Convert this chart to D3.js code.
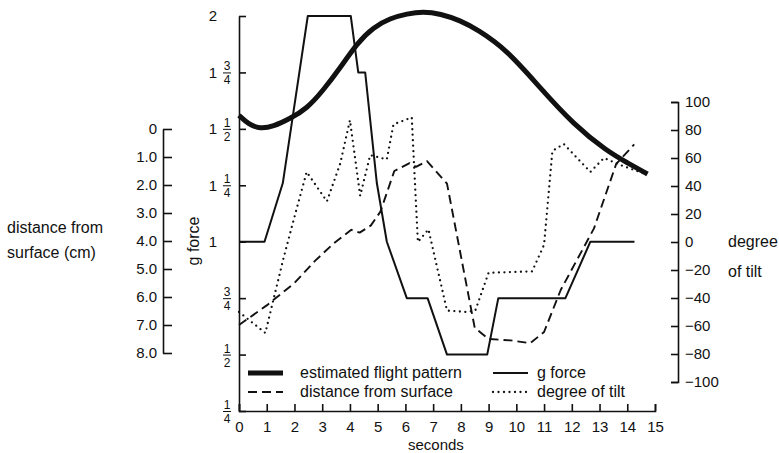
<!DOCTYPE html>
<html>
<head>
<meta charset="utf-8">
<script src="https://cdn.jsdelivr.net/npm/d3@7"></script>
<style>
  body { margin: 0; background: #fff; }
  text { font-family: "Liberation Sans", Arial, sans-serif; fill: #111; }
</style>
</head>
<body>
<div id="chart"></div>
<script>
// g force (thin solid line)
var gTime  = [0, 0.92, 1.58, 2.48, 4.03, 4.3, 4.55, 4.97, 5.33, 6.05, 6.8, 7.5, 8.95, 9.35, 11.77, 12.67, 14.26];
var gForce = [1, 1, 1.26, 2, 2, 1.75, 1.75, 1.26, 1.0, 0.75, 0.75, 0.5, 0.5, 0.75, 0.75, 1, 1];

// estimated flight pattern (thick curve, on the g force scale)
var flightTime = [0, 0.35, 0.76, 1.23, 1.84, 2.45, 3.03, 3.65, 4.26, 4.84, 5.45, 6.06, 6.64, 7.26, 7.98, 8.6, 9.66, 10.87, 12.06, 13.28, 14.0, 14.73];
var flightG    = [1.56, 1.52, 1.5, 1.51, 1.545, 1.59, 1.67, 1.77, 1.88, 1.95, 1.99, 2.01, 2.02, 2.01, 1.98, 1.94, 1.85, 1.68, 1.52, 1.40, 1.35, 1.30];

// distance from surface (cm)
var distTime = [0, 1, 2, 2.75, 3.4, 4.05, 4.35, 4.75, 5.1, 5.6, 6.15, 6.38, 6.78, 7.5, 8.5, 9.0, 9.8, 10.5, 11.0, 11.6, 12.8, 13.6, 14.25];
var distCm   = [7.0, 6.3, 5.5, 4.7, 4.1, 3.6, 3.7, 3.45, 2.95, 1.5, 1.22, 1.35, 1.15, 1.95, 7.1, 7.5, 7.55, 7.65, 7.25, 5.75, 3.55, 1.25, 0.55];

// degree of tilt
var tiltTime = [0, 0.95, 1.6, 1.96, 2.44, 3.17, 3.65, 4.0, 4.37, 4.73, 5.33, 5.57, 6.23, 6.3, 6.45, 6.83, 7.5, 8.22, 8.52, 9.0, 10.57, 11.0, 11.3, 11.71, 12.67, 13.16, 13.75, 14.72];
var tiltDeg  = [-50, -65, -12, 15, 50, 29, 56, 87, 33, 62, 59, 84, 89, 60, 0, 9, -49, -50, -49, -22, -21, -2, 65, 70, 50, 60, 55, 48];

// axis ticks
var secondTicks = d3.range(0, 16);
var gTicks = [0.25, 0.5, 0.75, 1, 1.25, 1.5, 1.75, 2];
var gLabels = [["", "1", "4"], ["", "1", "2"], ["", "3", "4"], ["1", "", ""], ["1", "1", "4"], ["1", "1", "2"], ["1", "3", "4"], ["2", "", ""]];
var distTicks = [0, 1, 2, 3, 4, 5, 6, 7, 8];
var tiltTicks = [100, 80, 60, 40, 20, 0, -20, -40, -60, -80, -100];

var legendItems = [
    {label: "estimated flight pattern", style: "flight", col: 0, row: 0},
    {label: "g force", style: "g", col: 1, row: 0},
    {label: "distance from surface", style: "dist", col: 0, row: 1},
    {label: "degree of tilt", style: "tilt", col: 1, row: 1}
];

init();

function init() {
    var w = 779, h = 453;
    var vis = d3.select("#chart").append("svg")
        .attr("width", w)
        .attr("height", h);

    var x = d3.scaleLinear().domain([0, 15]).range([239, 655]);
    var yG = d3.scaleLinear().domain([0.25, 2]).range([411, 16]);
    var yD = d3.scaleLinear().domain([0, 8]).range([129, 353]);
    var yT = d3.scaleLinear().domain([-100, 100]).range([382, 102]);

    var styles = {
        flight: {width: 5, dash: null, cap: "butt"},
        g: {width: 2, dash: null, cap: "butt"},
        dist: {width: 1.9, dash: "9,5", cap: "butt"},
        tilt: {width: 2.3, dash: "0,5.5", cap: "round"}
    };

    function applyStyle(sel, s) {
        sel.attr("fill", "none")
            .attr("stroke", "#111")
            .attr("stroke-width", styles[s].width)
            .attr("stroke-linecap", styles[s].cap)
            .attr("stroke-linejoin", "round");
        if (styles[s].dash) sel.attr("stroke-dasharray", styles[s].dash);
        return sel;
    }

    // x axis (seconds)
    var xAxis = vis.append("g")
        .attr("transform", "translate(0,411)")
        .call(d3.axisBottom(x).tickValues(secondTicks).tickSizeInner(-7).tickSizeOuter(-7).tickPadding(10));
    xAxis.selectAll("text").style("font-size", "15px").attr("font-family", null);

    vis.append("text")
        .attr("x", x(7.1))
        .attr("y", 450)
        .attr("text-anchor", "middle")
        .style("font-size", "15px")
        .text("seconds");

    // g force axis
    vis.append("g")
        .attr("transform", "translate(239,0)")
        .call(d3.axisLeft(yG).tickValues(gTicks).tickSizeInner(-7).tickSizeOuter(0).tickFormat(""));

    var gl = vis.append("g").selectAll("g.glabel")
        .data(gTicks)
        .enter()
        .append("g")
        .attr("class", "glabel")
        .attr("transform", function(d) { return "translate(0," + yG(d) + ")"; });
    gl.append("text")
        .attr("x", 213)
        .attr("dy", "0.36em")
        .attr("text-anchor", "middle")
        .style("font-size", "15px")
        .text(function(d, i) { return gLabels[i][0]; });
    gl.append("text")
        .attr("x", 227)
        .attr("y", -2)
        .attr("text-anchor", "middle")
        .style("font-size", "12px")
        .text(function(d, i) { return gLabels[i][1]; });
    gl.append("text")
        .attr("x", 227)
        .attr("y", 12)
        .attr("text-anchor", "middle")
        .style("font-size", "12px")
        .text(function(d, i) { return gLabels[i][2]; });
    gl.filter(function(d, i) { return gLabels[i][1] !== ""; })
        .append("line")
        .attr("x1", 223).attr("x2", 231)
        .attr("y1", 0.5).attr("y2", 0.5)
        .attr("stroke", "#111")
        .attr("stroke-width", 1);

    vis.append("text")
        .attr("transform", "translate(199,241) rotate(-90)")
        .attr("text-anchor", "middle")
        .style("font-size", "16px")
        .text("g force");

    // distance axis
    var dAxis = vis.append("g")
        .attr("transform", "translate(163,0)")
        .call(d3.axisLeft(yD).tickValues(distTicks).tickSizeInner(-9).tickSizeOuter(0).tickPadding(6)
            .tickFormat(function(d) { return d === 0 ? "0" : d3.format(".1f")(d); }));
    dAxis.selectAll("text").style("font-size", "15px").attr("font-family", null);

    vis.append("text").attr("x", 7).attr("y", 233).style("font-size", "16px").text("distance from");
    vis.append("text").attr("x", 7).attr("y", 258).style("font-size", "16px").text("surface (cm)");

    // tilt axis
    var tAxis = vis.append("g")
        .attr("transform", "translate(678,0)")
        .call(d3.axisRight(yT).tickValues(tiltTicks).tickSizeInner(-7).tickSizeOuter(-7).tickPadding(7));
    tAxis.selectAll("text").style("font-size", "15px").attr("font-family", null);

    vis.append("text").attr("x", 728).attr("y", 247).style("font-size", "16px").text("degree");
    vis.append("text").attr("x", 728).attr("y", 277).style("font-size", "16px").text("of tilt");

    vis.selectAll(".domain, .tick line").attr("stroke", "#111").attr("stroke-width", 1.6);

    // series
    var flightLine = d3.line()
        .x(function(d) { return x(d[0]); })
        .y(function(d) { return yG(d[1]); })
        .curve(d3.curveBasis);
    applyStyle(vis.append("path").datum(d3.zip(flightTime, flightG)).attr("d", flightLine), "flight");

    var gLine = d3.line()
        .x(function(d) { return x(d[0]); })
        .y(function(d) { return yG(d[1]); });
    applyStyle(vis.append("path").datum(d3.zip(gTime, gForce)).attr("d", gLine), "g");

    var distLine = d3.line()
        .x(function(d) { return x(d[0]); })
        .y(function(d) { return yD(d[1]); });
    applyStyle(vis.append("path").datum(d3.zip(distTime, distCm)).attr("d", distLine), "dist");

    var tiltLine = d3.line()
        .x(function(d) { return x(d[0]); })
        .y(function(d) { return yT(d[1]); });
    applyStyle(vis.append("path").datum(d3.zip(tiltTime, tiltDeg)).attr("d", tiltLine), "tilt");

    // legend
    var legend = vis.append("g").selectAll("g.item")
        .data(legendItems)
        .enter()
        .append("g")
        .attr("class", "item")
        .attr("transform", function(d) { return "translate(" + (d.col ? 493 : 248) + "," + (373 + d.row * 19) + ")"; });
    legend.each(function(d) {
        applyStyle(d3.select(this).append("line")
            .attr("x1", 0).attr("x2", 35)
            .attr("y1", 0).attr("y2", 0), d.style);
    });
    legend.append("text")
        .attr("x", function(d) { return d.col ? 44 : 52; })
        .attr("y", 5)
        .style("font-size", "16px")
        .text(function(d) { return d.label; });
}
</script>
</body>
</html>
